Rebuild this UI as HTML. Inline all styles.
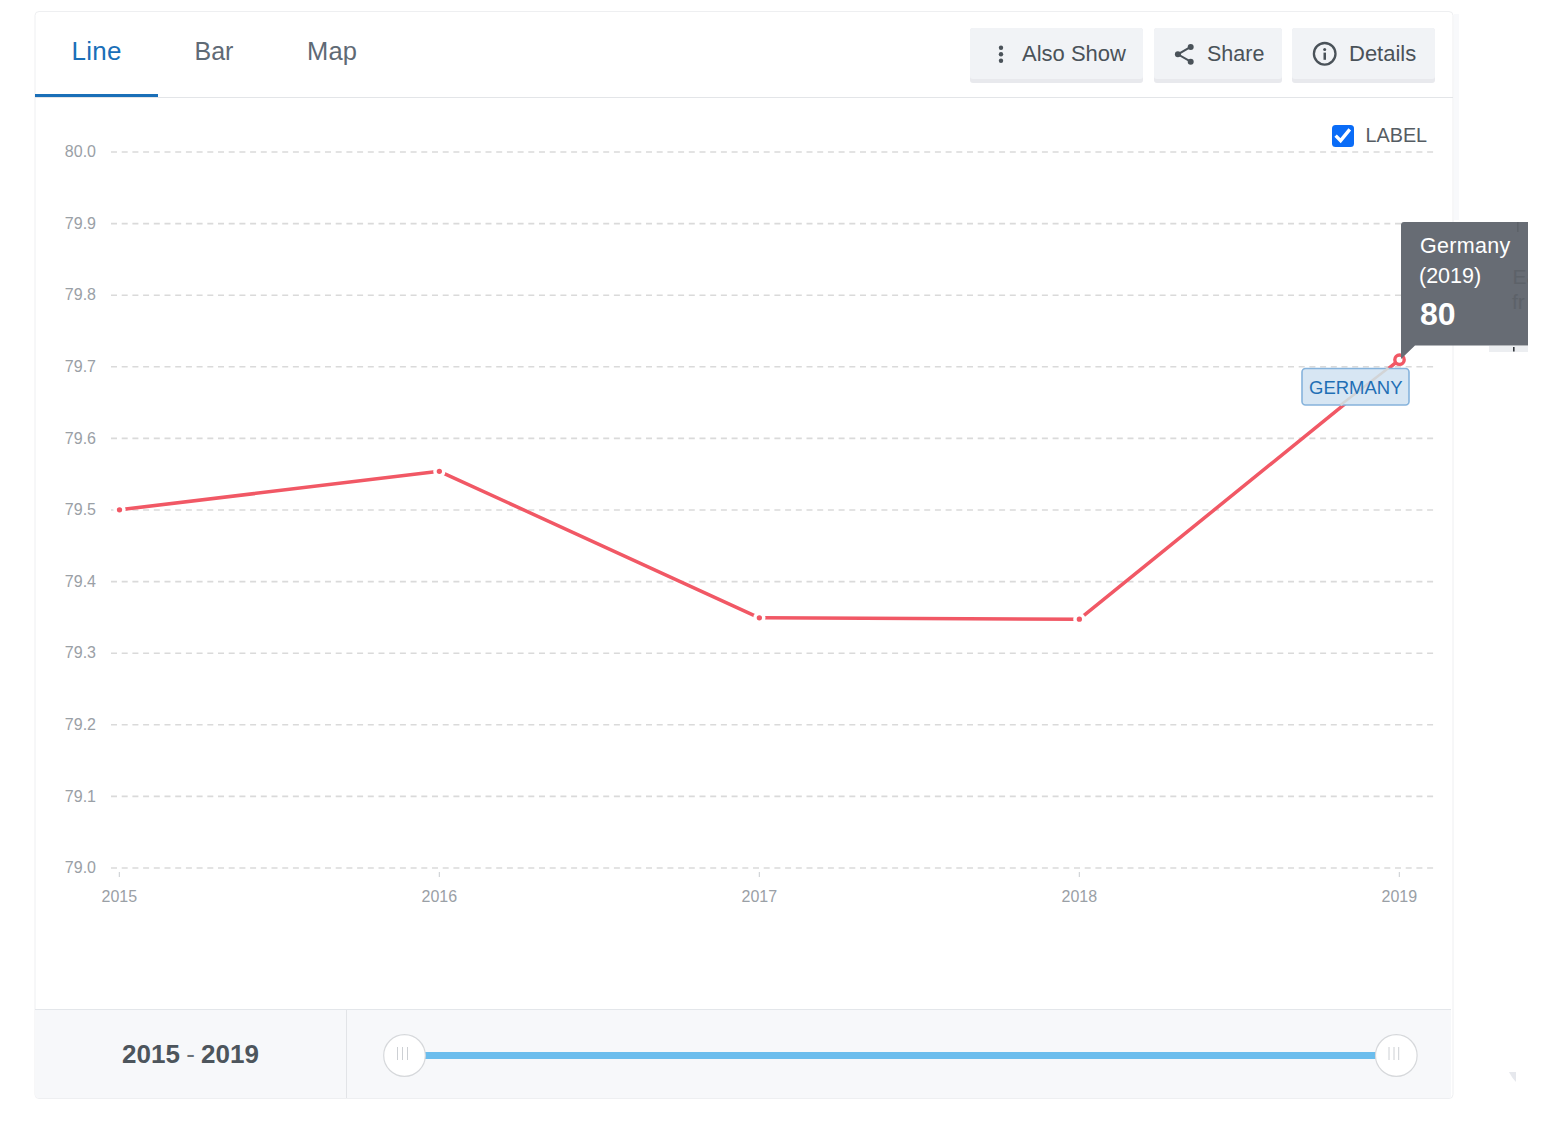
<!DOCTYPE html>
<html><head><meta charset="utf-8">
<style>
html,body{margin:0;padding:0;background:#fff;width:1544px;height:1130px;overflow:hidden}
svg{display:block;font-family:"Liberation Sans",sans-serif}
</style></head>
<body>
<svg width="1544" height="1130" viewBox="0 0 1544 1130">
<!-- card -->
<rect x="35" y="11.5" width="1418" height="1087" rx="4" fill="#fff" stroke="#eeeff1" stroke-width="1"/>
<rect x="1454" y="14" width="5" height="206" fill="#f8f9fb"/>
<!-- tab bar border -->
<rect x="35" y="97" width="1418" height="1" fill="#e3e5e8"/>
<rect x="35" y="94" width="123" height="3" fill="#1a6fb8"/>
<text x="71.5" y="60" font-size="26" letter-spacing="0.3" fill="#1a6fb8">Line</text>
<text x="194.5" y="60" font-size="25" fill="#5f6a75">Bar</text>
<text x="307" y="60" font-size="25.5" letter-spacing="0.2" fill="#5f6a75">Map</text>

<!-- buttons -->
<g>
<rect x="970" y="28" width="173" height="55" rx="3" fill="#e8e9ed"/>
<rect x="970" y="28" width="173" height="51" rx="3" fill="#f1f3f6"/>
<circle cx="1001" cy="47.8" r="2.2" fill="#4a5259"/>
<circle cx="1001" cy="54.3" r="2.2" fill="#4a5259"/>
<circle cx="1001" cy="60.8" r="2.2" fill="#4a5259"/>
<text x="1022" y="61" font-size="22" fill="#4a5259">Also Show</text>

<rect x="1154" y="28" width="128" height="55" rx="3" fill="#e8e9ed"/>
<rect x="1154" y="28" width="128" height="51" rx="3" fill="#f1f3f6"/>
<path d="M1190.7 46.9 L1177.9 54.3 L1190.7 61.7" fill="none" stroke="#4a5259" stroke-width="2"/>
<circle cx="1177.9" cy="54.3" r="3" fill="#4a5259"/>
<circle cx="1190.7" cy="46.9" r="3" fill="#4a5259"/>
<circle cx="1190.7" cy="61.7" r="3" fill="#4a5259"/>
<text x="1207" y="61" font-size="21.5" fill="#4a5259">Share</text>

<rect x="1292" y="28" width="143" height="55" rx="3" fill="#e8e9ed"/>
<rect x="1292" y="28" width="143" height="51" rx="3" fill="#f1f3f6"/>
<circle cx="1324.7" cy="53.8" r="10.8" fill="none" stroke="#4a5259" stroke-width="2.3"/>
<circle cx="1324.7" cy="49.4" r="1.5" fill="#4a5259"/>
<rect x="1323.5" y="52.6" width="2.5" height="7.2" fill="#4a5259"/>
<text x="1349" y="61" font-size="22" fill="#4a5259">Details</text>
</g>

<!-- checkbox -->
<rect x="1332" y="125" width="22" height="22" rx="3.5" fill="#0a6cf7"/>
<path d="M1335.6 135.6 L1340.6 140.6 L1349.8 129.4" fill="none" stroke="#fff" stroke-width="3.4"/>
<text x="1365.5" y="142.4" font-size="19.8" fill="#555c63">LABEL</text>

<!-- grid -->
<g stroke="#dadada" stroke-width="1.6" stroke-dasharray="6,4.7">
<line x1="111" y1="152" x2="1434" y2="152"/>
<line x1="111" y1="223.6" x2="1434" y2="223.6"/>
<line x1="111" y1="295.2" x2="1434" y2="295.2"/>
<line x1="111" y1="366.8" x2="1434" y2="366.8"/>
<line x1="111" y1="438.4" x2="1434" y2="438.4"/>
<line x1="111" y1="510" x2="1434" y2="510"/>
<line x1="111" y1="581.6" x2="1434" y2="581.6"/>
<line x1="111" y1="653.2" x2="1434" y2="653.2"/>
<line x1="111" y1="724.8" x2="1434" y2="724.8"/>
<line x1="111" y1="796.4" x2="1434" y2="796.4"/>
<line x1="111" y1="868" x2="1434" y2="868"/>
</g>
<g font-size="16" fill="#9aa0a6" text-anchor="end">
<text x="96" y="157.1">80.0</text>
<text x="96" y="228.7">79.9</text>
<text x="96" y="300.3">79.8</text>
<text x="96" y="371.9">79.7</text>
<text x="96" y="443.5">79.6</text>
<text x="96" y="515.1">79.5</text>
<text x="96" y="586.7">79.4</text>
<text x="96" y="658.3">79.3</text>
<text x="96" y="729.9">79.2</text>
<text x="96" y="801.5">79.1</text>
<text x="96" y="873.1">79.0</text>
</g>
<g stroke="#c8ccd0" stroke-width="1">
<line x1="119.3" y1="872" x2="119.3" y2="877"/>
<line x1="439.3" y1="872" x2="439.3" y2="877"/>
<line x1="759.3" y1="872" x2="759.3" y2="877"/>
<line x1="1079.3" y1="872" x2="1079.3" y2="877"/>
<line x1="1399.3" y1="872" x2="1399.3" y2="877"/>
</g>
<g font-size="16" fill="#9aa0a6" text-anchor="middle">
<text x="119.3" y="902">2015</text>
<text x="439.3" y="902">2016</text>
<text x="759.3" y="902">2017</text>
<text x="1079.3" y="902">2018</text>
<text x="1399.3" y="902">2019</text>
</g>

<!-- series -->
<polyline points="119.5,509.8 439.35,471.3 759.35,617.8 1079.35,619.2 1399.5,359.7" fill="none" stroke="#f15865" stroke-width="3.5" stroke-linejoin="round"/>
<g fill="#f15865" stroke="#fff" stroke-width="3.5">
<circle cx="119.5" cy="509.8" r="4.4"/>
<circle cx="439.35" cy="471.3" r="4.4"/>
<circle cx="759.35" cy="617.8" r="4.4"/>
<circle cx="1079.35" cy="619.2" r="4.4"/>
</g>
<circle cx="1399.5" cy="359.7" r="4.7" fill="#fff" stroke="#f15865" stroke-width="3.4"/>

<!-- data label -->
<rect x="1302" y="368.5" width="107" height="36.5" rx="3.5" fill="#d7e6f3" stroke="#86b3dc" stroke-width="1.6"/>
<line x1="1340.5" y1="405" x2="1388.5" y2="368" stroke="#d2d4d6" stroke-width="2.5"/>
<text x="1309" y="393.7" font-size="18.5" fill="#1f6fb5">GERMANY</text>

<!-- tooltip -->
<path d="M1404 222 H1528 V345.5 H1415 L1401 359 V225 Q1401 222 1404 222 Z" fill="#676c74"/>
<clipPath id="tc"><rect x="1401" y="222" width="127" height="124"/></clipPath>
<g fill="#5d6269" font-size="21" clip-path="url(#tc)">
<rect x="1517" y="222" width="1.6" height="10"/>
<text x="1512.5" y="283.5">Ea</text>
<text x="1512" y="309">fr</text>
</g>
<rect x="1489" y="346" width="39" height="6" fill="#eceef1"/>
<rect x="1513" y="347" width="1.6" height="4.5" fill="#33373c"/>
<text x="1420" y="252.5" font-size="21.5" letter-spacing="0.3" fill="#fff">Germany</text>
<text x="1419" y="282.5" font-size="21.5" fill="#fff">(2019)</text>
<text x="1420" y="324.5" font-size="32" font-weight="bold" fill="#fff">80</text>

<!-- bottom panel -->
<path d="M35 1009 H1451 V1098 H39 Q35 1098 35 1094 Z" fill="#f7f8fa"/>
<rect x="35" y="1009" width="1416" height="1" fill="#e3e6ea"/>
<rect x="346" y="1010" width="1" height="88" fill="#e2e4e7"/>
<text x="122" y="1063" font-size="26" font-weight="bold" fill="#4d555c">2015<tspan font-weight="normal" fill="#6b7279" dx="6.5">-</tspan><tspan dx="6">2019</tspan></text>
<rect x="404" y="1052" width="992" height="7" fill="#6bbded"/>
<circle cx="404.5" cy="1055.5" r="20.8" fill="#fff" stroke="#d6d8db" stroke-width="1.2"/>
<g stroke="#cdd0d4" stroke-width="1">
<line x1="397.5" y1="1047" x2="397.5" y2="1060"/>
<line x1="402.5" y1="1047" x2="402.5" y2="1060"/>
<line x1="407.5" y1="1047" x2="407.5" y2="1060"/>
</g>
<circle cx="1396.3" cy="1055.5" r="20.8" fill="#fff" stroke="#d6d8db" stroke-width="1.2"/>
<g stroke="#cdd0d4" stroke-width="1">
<line x1="1389" y1="1047" x2="1389" y2="1060"/>
<line x1="1394" y1="1047" x2="1394" y2="1060"/>
<line x1="1398.7" y1="1047" x2="1398.7" y2="1060"/>
</g>
<path d="M1509 1072 H1516 V1082 Q1512 1078 1509 1072 Z" fill="#e6e8ed"/>
</svg>
</body></html>
